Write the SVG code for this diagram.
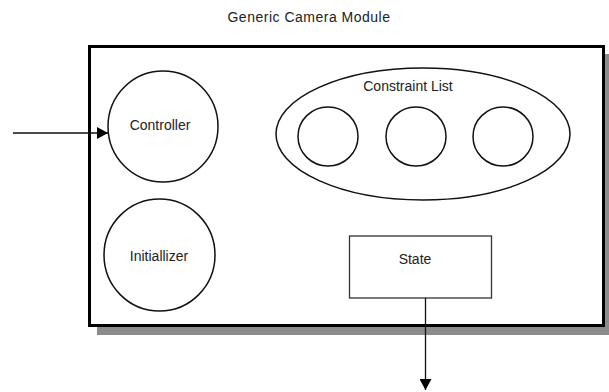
<svg xmlns="http://www.w3.org/2000/svg" width="609" height="392" viewBox="0 0 609 392">
<style>
text{font-family:"Liberation Sans",Arial,sans-serif;font-size:14px;fill:#222;text-anchor:middle}
.c{fill:#fff;stroke:#111;stroke-width:1.5}
.ln{stroke:#111;stroke-width:1.3;fill:none}
</style>
<defs>
<marker id="ah" markerWidth="12" markerHeight="12" refX="11" refY="6" orient="auto" markerUnits="userSpaceOnUse">
<path d="M0,0 L11,6 L0,12 Z" fill="#000"/>
</marker>
</defs>
<rect width="609" height="392" fill="#fff"/>
<text x="309" y="22" letter-spacing="0.5">Generic Camera Module</text>
<g id="module">
<rect x="97" y="54" width="515" height="281" fill="#8c8c8c"/>
<rect x="89.5" y="46.5" width="514" height="279" fill="#fff" stroke="#000" stroke-width="3"/>
</g>
<g id="controller">
<ellipse class="c" cx="163" cy="126.5" rx="55" ry="55.5"/>
<text x="160" y="130">Controller</text>
</g>
<g id="initializer">
<ellipse class="c" cx="159.5" cy="255" rx="55.5" ry="56"/>
<text x="159" y="261">Initiallizer</text>
</g>
<g id="constraint-list">
<ellipse class="c" cx="423" cy="134" rx="147" ry="66"/>
<text x="408" y="91">Constraint List</text>
</g>
<g id="constraint-1"><ellipse class="c" cx="328" cy="136.5" rx="30" ry="29.5"/></g>
<g id="constraint-2"><ellipse class="c" cx="416" cy="136.5" rx="30" ry="29.5"/></g>
<g id="constraint-3"><ellipse class="c" cx="503" cy="136.5" rx="30" ry="29.5"/></g>
<g id="state">
<rect x="349.5" y="236" width="142" height="62" fill="#fff" stroke="#333" stroke-width="1.3"/>
<text x="415" y="264">State</text>
</g>
<g id="connectors">
<line class="ln" x1="13" y1="133" x2="108" y2="133" marker-end="url(#ah)"/>
<line class="ln" x1="425.5" y1="298" x2="425.5" y2="390" marker-end="url(#ah)"/>
</g>
</svg>
